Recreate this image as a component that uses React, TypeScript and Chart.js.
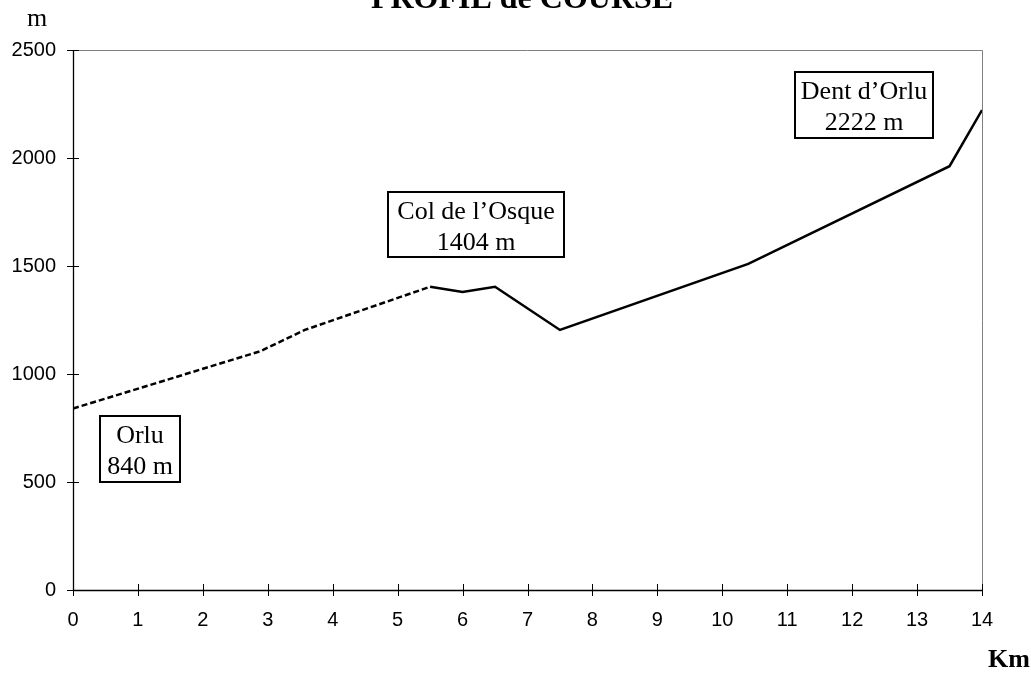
import React, { useEffect, useRef } from "react";
import { Chart, registerables } from "chart.js";

Chart.register(...registerables);

// Approach section (dashed) and ridge section (solid)
const approachKm = [0, 2.88, 3.57, 5.5];
const approachAlt = [840, 1105, 1204, 1404];
const ridgeKm = [5.5, 6.0, 6.5, 7.5, 10.4, 13.5, 14];
const ridgeAlt = [1404, 1380, 1404, 1204, 1510, 1962, 2222];

const xTickValues = [0, 1, 2, 3, 4, 5, 6, 7, 8, 9, 10, 11, 12, 13, 14];
const yTickValues = [0, 500, 1000, 1500, 2000, 2500];

const placeNames = ["Orlu", "Col de l\u2019Osque", "Dent d\u2019Orlu"];
const placeAlts = ["840 m", "1404 m", "2222 m"];
// label boxes in data coordinates: [kmLeft, kmRight, altTop, altBottom]
const placeBoxes = [
  [0.42, 1.65, 806, 500],
  [4.85, 7.56, 1843, 1542],
  [11.12, 13.25, 2398, 2093],
];

const titleText = "PROFIL de COURSE";
const yUnit = "m";
const xUnit = "Km";

const SERIF = "'Liberation Serif', 'Times New Roman', serif";
const SANS = "'Liberation Sans', Arial, sans-serif";

const decorPlugin = {
  id: "decor",
  afterDraw(chart: any) {
    const ctx = chart.ctx as CanvasRenderingContext2D;
    const xs = chart.scales.x;
    const ys = chart.scales.y;
    const { left, right, top, bottom } = chart.chartArea;
    ctx.save();
    // top & right frame (gray)
    ctx.strokeStyle = "#808080";
    ctx.lineWidth = 1;
    ctx.beginPath();
    ctx.moveTo(left, top + 0.5);
    ctx.lineTo(right + 0.5, top + 0.5);
    ctx.lineTo(right + 0.5, bottom);
    ctx.stroke();
    // axes (black)
    ctx.strokeStyle = "#000";
    ctx.lineWidth = 1.3;
    ctx.beginPath();
    ctx.moveTo(left + 0.5, top);
    ctx.lineTo(left + 0.5, bottom);
    ctx.moveTo(left, bottom + 0.5);
    ctx.lineTo(right + 1, bottom + 0.5);
    ctx.stroke();
    ctx.lineWidth = 1;
    ctx.beginPath();
    yTickValues.forEach((v) => {
      const y = Math.round(ys.getPixelForValue(v)) + 0.5;
      ctx.moveTo(left - 6, y);
      ctx.lineTo(left + 6, y);
    });
    xTickValues.forEach((v) => {
      const x = Math.round(xs.getPixelForValue(v)) + 0.5;
      ctx.moveTo(x, bottom - 6);
      ctx.lineTo(x, bottom + 6);
    });
    ctx.stroke();

    // title and unit labels
    ctx.fillStyle = "#000";
    ctx.textBaseline = "alphabetic";
    ctx.textAlign = "center";
    ctx.font = `bold 32px ${SERIF}`;
    ctx.fillText(titleText, 522, 8);
    ctx.textAlign = "left";
    ctx.font = `26px ${SERIF}`;
    ctx.fillText(yUnit, 27, 26);
    ctx.textAlign = "right";
    ctx.font = `bold 26px ${SERIF}`;
    ctx.fillText(xUnit, 1030, 667);

    // place boxes
    ctx.font = `26px ${SERIF}`;
    ctx.textAlign = "center";
    placeBoxes.forEach((b, i) => {
      const x1 = Math.round(xs.getPixelForValue(b[0]));
      const x2 = Math.round(xs.getPixelForValue(b[1]));
      const y1 = Math.round(ys.getPixelForValue(b[2]));
      const y2 = Math.round(ys.getPixelForValue(b[3]));
      ctx.fillStyle = "#fff";
      ctx.fillRect(x1, y1, x2 - x1, y2 - y1);
      ctx.strokeStyle = "#000";
      ctx.lineWidth = 2;
      ctx.strokeRect(x1, y1, x2 - x1, y2 - y1);
      ctx.fillStyle = "#000";
      const cx = (x1 + x2) / 2;
      ctx.fillText(placeNames[i], cx, y1 + 27);
      ctx.fillText(placeAlts[i], cx, y1 + 58);
    });
    ctx.restore();
  },
};

export default function App() {
  const ref = useRef<HTMLCanvasElement | null>(null);
  useEffect(() => {
    if (!ref.current) return;
    const chart = new Chart(ref.current, {
      type: "line",
      data: {
        datasets: [
          {
            data: approachKm.map((k, i) => ({ x: k, y: approachAlt[i] })),
            borderColor: "#000",
            borderWidth: 2.5,
            borderDash: [6, 3],
            pointRadius: 0,
            tension: 0,
            fill: false,
          },
          {
            data: ridgeKm.map((k, i) => ({ x: k, y: ridgeAlt[i] })),
            borderColor: "#000",
            borderWidth: 2.5,
            pointRadius: 0,
            tension: 0,
            fill: false,
          },
        ],
      },
      options: {
        responsive: false,
        animation: false,
        layout: { padding: { left: 0, top: 50, right: 49, bottom: 0 } },
        plugins: {
          legend: { display: false },
          tooltip: { enabled: false },
          title: { display: false },
        },
        scales: {
          x: {
            type: "linear",
            min: 0,
            max: 14,
            afterFit: (s: any) => {
              s.height = 83;
            },
            afterBuildTicks: (s: any) => {
              s.ticks = xTickValues.map((v) => ({ value: v }));
            },
            grid: { display: false, drawTicks: false, tickLength: 0 },
            border: { display: false },
            ticks: {
              padding: 18,
              color: "#000",
              maxRotation: 0,
              autoSkip: false,
              callback: (v: any) => String(v),
              font: { family: SANS, size: 20 },
            },
          },
          y: {
            type: "linear",
            min: 0,
            max: 2500,
            afterFit: (s: any) => {
              s.width = 73;
            },
            afterBuildTicks: (s: any) => {
              s.ticks = yTickValues.map((v) => ({ value: v }));
            },
            grid: { display: false, drawTicks: false, tickLength: 0 },
            border: { display: false },
            ticks: {
              padding: 17,
              color: "#000",
              autoSkip: false,
              callback: (v: any) => String(v),
              font: { family: SANS, size: 20 },
            },
          },
        },
      },
      plugins: [decorPlugin],
    } as any);
    return () => chart.destroy();
  }, []);
  return (
    <div style={{ position: "absolute", left: 0, top: 0, width: 1031, height: 673, background: "#fff" }}>
      <canvas ref={ref} width={1031} height={673} style={{ width: 1031, height: 673, display: "block" }} />
    </div>
  );
}
